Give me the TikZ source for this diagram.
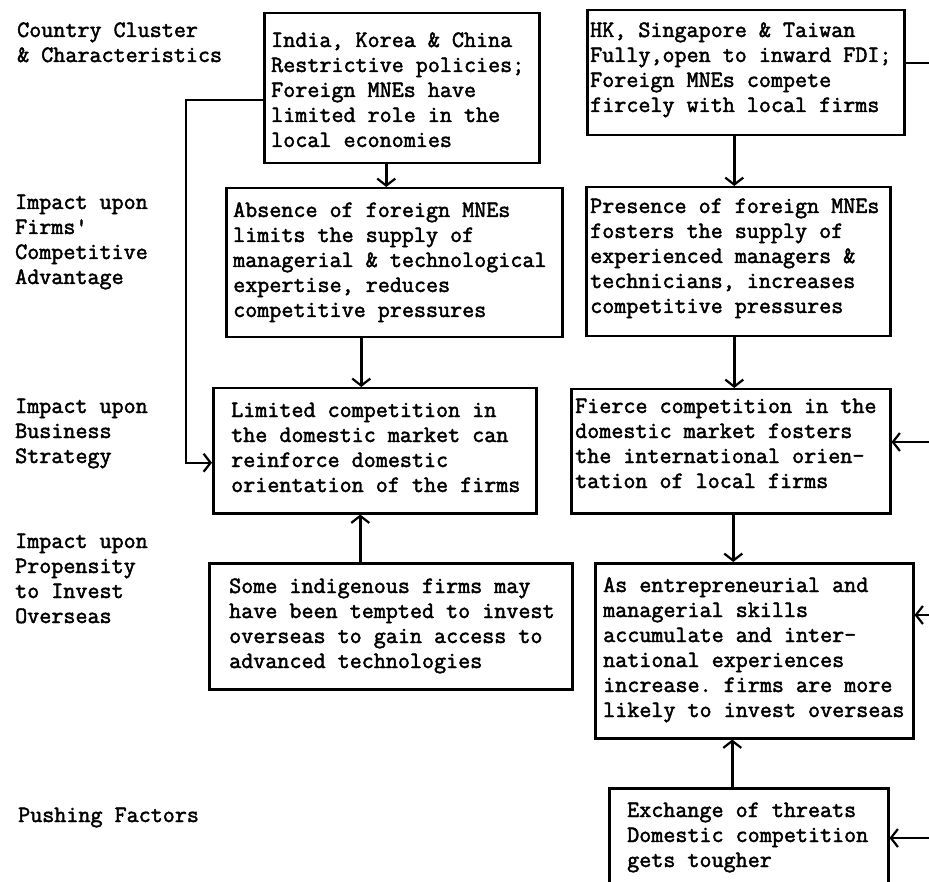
\documentclass[tikz,border=0pt]{standalone}
\usepackage{fontspec}
\setmonofont{Latin Modern Mono}[FakeBold=2]
\usetikzlibrary{arrows.meta}
\begin{document}
\begin{tikzpicture}[x=1pt,y=-1pt,
  % multi-line nodes: the base anchor sits on the last line
  tt/.style={font=\fontsize{23.4pt}{25pt}\selectfont\ttfamily, inner sep=0pt, align=left, anchor=base west},
  box/.style={draw, line width=2.5pt, anchor=north west, inner sep=0pt},
  arr/.style={line width=2.5pt, -{Straight Barb[length=7pt,width=18pt,line width=2.2pt]}},
  link/.style={line width=2.5pt}]
\useasboundingbox (0,0) rectangle (929,882);
\fill[white] (0,0) rectangle (929,882);
\clip (0,0) rectangle (929,882);

% row labels
\node[tt] (l1) at (17,62) {Country Cluster\\\& Characteristics};
\node[tt] (l2) at (15,284) {Impact upon\\Firms'\\Competitive\\Advantage};
\node[tt] (l3) at (15,463) {Impact upon\\Business\\Strategy};
\node[tt] (l4) at (15,623) {Impact upon\\Propensity\\to Invest\\Overseas};
\node[tt] (l5) at (18,822) {Pushing Factors};

% boxes
\node[box, minimum width=275pt, minimum height=150pt] (A)  at (263,12)  {};
\node[box, minimum width=317pt, minimum height=125pt] (B)  at (586,9)   {};
\node[box, minimum width=336pt, minimum height=149pt] (C1) at (225,187) {};
\node[box, minimum width=304pt, minimum height=149pt] (C2) at (585,186) {};
\node[box, minimum width=319pt, minimum height=124pt] (D2) at (570,388) {};
\node[box, minimum width=323pt, minimum height=125pt] (D1) at (212,387) {};
\node[box, minimum width=363pt, minimum height=126pt] (E1) at (208,562) {};
\node[box, minimum width=318pt, minimum height=175pt] (E2) at (594,562) {};
\node[box, minimum width=279pt, minimum height=120pt] (F2) at (608,787) {};

% box texts
\node[tt] (At) at (271,147) {India, Korea \& China\\Restrictive policies;\\Foreign MNEs have\\limited role in the\\local economies};
\node[tt] (Bt) at (590,112) {HK, Singapore \& Taiwan\\Fully,open to inward FDI;\\Foreign MNEs compete\\fircely with local firms};
\node[tt] (C1t) at (233,317) {Absence of foreign MNEs\\limits the supply of\\managerial \& technological\\expertise, reduces\\competitive pressures};
\node[tt] (C2t) at (590,313) {Presence of foreign MNEs\\fosters the supply of\\experienced managers \&\\technicians, increases\\competitive pressures};
\node[tt] (D1t) at (231,492) {Limited competition in\\the domestic market can\\reinforce domestic\\orientation of the firms};
\node[tt] (D2t) at (575,488) {Fierce competition in the\\domestic market fosters\\the international orien-\\tation of local firms};
\node[tt] (E1t) at (229,668) {Some indigenous firms may\\have been tempted to invest\\overseas to gain access to\\advanced technologies};
\node[tt] (E2t) at (603,717) {As entrepreneurial and\\managerial skills\\accumulate and inter-\\national experiences\\increase. firms are more\\likely to invest overseas};
\node[tt] (F2t) at (627,867) {Exchange of threats\\Domestic competition\\gets tougher};

% free ends at the right margin
\coordinate (rB)  at (929,63);
\coordinate (rD2) at (929,442);
\coordinate (rE2) at (929,615);
\coordinate (rF2) at (929,838);

% left column connectors
\draw[arr] ([xshift=-15.5pt]A.south) -- ([xshift=-15.5pt]A.south |- C1.north);
\draw[arr] ([xshift=-33pt]C1.south) -- ([xshift=-33pt]C1.south |- D1.north);
\draw[arr] ([xshift=-30.5pt]E1.north) -- ([xshift=-30.5pt]E1.north |- D1.south);
\draw[arr] ([yshift=-12pt]A.west) -| ++(-77,0) |- ([yshift=-12pt]D1.west);

% right column connectors
\draw[arr] ([xshift=-11.5pt]B.south) -- ([xshift=-11.5pt]B.south |- C2.north);
\draw[arr] ([xshift=-4pt]C2.south) -- ([xshift=-4pt]C2.south |- D2.north);
\draw[arr] ([xshift=2.5pt]D2.south) -- ([xshift=2.5pt]D2.south |- E2.north);
\draw[arr] ([xshift=-16.5pt]F2.north) -- ([xshift=-16.5pt]F2.north |- E2.south);
\draw[link] (rB -| B.east) -- (rB);
\draw[arr] (rD2) -- (rD2 -| D2.east);
\draw[arr] (rE2) -- (rE2 -| E2.east);
\draw[arr] (rF2) -- (rF2 -| F2.east);
\end{tikzpicture}
\end{document}
